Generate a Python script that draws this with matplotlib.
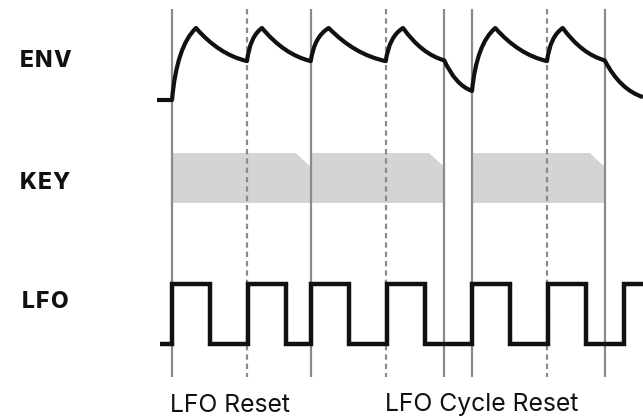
import matplotlib
matplotlib.use("Agg")
import matplotlib.pyplot as plt
from matplotlib.path import Path
from matplotlib.patches import PathPatch, Polygon

# ---------------- data (time in arbitrary units, LFO period = 100) ----------------
row_labels = ["ENV", "KEY", "LFO"]
event_labels = ["LFO Reset", "LFO Cycle Reset"]

key_on = [0, 185, 400]
key_off = [185, 363, 577]

lfo_reset_times = [0, 185, 363, 400, 577]      # solid markers (key events)
lfo_cycle_times = [100, 285, 500]              # dashed markers

lfo_edge_times = [-16, 0, 51, 101, 152, 185, 236, 287, 337, 400, 451, 501, 552, 603, 628]
lfo_levels = [0, 1, 0, 1, 0, 1, 0, 1, 0, 1, 0, 1, 0, 1, 1]

env_times = [-20, 0, 32, 100, 120, 185, 209, 285, 308, 363, 400, 431, 500, 521, 577, 628]
env_levels = [0, 0, 1.0, 0.54, 1.0, 0.54, 1.0, 0.54, 1.0, 0.55, 0.125, 1.0, 0.54, 1.0, 0.55, 0.04]
env_shapes = ["flat", "attack", "decay", "attack", "decay", "attack", "decay", "attack",
              "decay", "release", "attack", "decay", "attack", "decay", "release"]

# ---------------- layout / style ----------------
W, H, DPI = 643, 418, 100
PX_PER_T = 0.75
X0_PX = 172
ENV_BASE, ENV_H = 100, 72
LFO_BASE, LFO_H = 344, 60
KEY_TOP, KEY_BOT = 153, 203
CHAMF_T, CHAMF_H = 20, 14
VTOP, VBOT = 9, 377
INK = "#111111"
GRAY = "#8a8a8a"
KEYC = "#d4d4d4"

fig = plt.figure(figsize=(W / DPI, H / DPI), dpi=DPI)
ax = fig.add_axes([0, 0, 1, 1])
ax.set_xlim((0 - X0_PX) / PX_PER_T, (W - X0_PX) / PX_PER_T)
ax.set_ylim(H, 0)
ax.axis("off")

# key bands
for on, off in zip(key_on, key_off):
    poly = Polygon([(on, KEY_TOP), (off - CHAMF_T, KEY_TOP), (off, KEY_TOP + CHAMF_H),
                    (off, KEY_BOT), (on, KEY_BOT)], closed=True,
                   facecolor=KEYC, edgecolor="none", zorder=1)
    ax.add_patch(poly)

# vertical markers
for t in lfo_reset_times:
    ax.plot([t, t], [VTOP, VBOT], color=GRAY, lw=1.6, solid_capstyle="butt", zorder=2)
for t in lfo_cycle_times:
    ax.plot([t, t], [VTOP, VBOT], color=GRAY, lw=1.6, linestyle=(0, (2.4, 1.8)),
            dash_capstyle="butt", zorder=2)

# envelope (quadratic bezier segments)
shape_ctrl = {"attack": (0.2, 0.75), "decay": (0.45, 0.8), "release": (0.4, 0.8)}
ey = [ENV_BASE - ENV_H * v for v in env_levels]
verts = [(env_times[0], ey[0])]
codes = [Path.MOVETO]
for i, shp in enumerate(env_shapes):
    t0, t1 = env_times[i], env_times[i + 1]
    y0, y1 = ey[i], ey[i + 1]
    if shp == "flat":
        verts.append((t1, y1)); codes.append(Path.LINETO)
    else:
        fx, fy = shape_ctrl[shp]
        verts.append((t0 + fx * (t1 - t0), y0 + fy * (y1 - y0))); codes.append(Path.CURVE3)
        verts.append((t1, y1)); codes.append(Path.CURVE3)
ax.add_patch(PathPatch(Path(verts, codes), fill=False, edgecolor=INK, lw=3.0,
                       joinstyle="round", capstyle="butt", zorder=3))

# LFO square wave
ax.step(lfo_edge_times, [LFO_BASE - LFO_H * v for v in lfo_levels], where="post",
        color=INK, lw=3.2, solid_joinstyle="miter", solid_capstyle="butt", zorder=3)

# row labels with letter tracking
renderer = fig.canvas.get_renderer()
label_y = [61, 183, 302]
TRACK_PX = 1.2
LFS = 16.5
for lab, y in zip(row_labels, label_y):
    widths = []
    for ch in lab:
        tmp = ax.text(0, 0, ch, fontsize=LFS, fontweight="heavy", family="Inter")
        widths.append(tmp.get_window_extent(renderer).width)
        tmp.remove()
    total = sum(widths) + TRACK_PX * (len(lab) - 1)
    xpx = 45 - total / 2
    for ch, w in zip(lab, widths):
        ax.text((xpx - X0_PX) / PX_PER_T, y, ch, ha="left", va="center", fontsize=LFS,
                fontweight="heavy", family="Inter", color=INK)
        xpx += w + TRACK_PX

# event labels
ax.text(lfo_reset_times[0] - 2, 405, event_labels[0], ha="left", va="center",
        fontsize=17.8, family="Inter", color=INK)
ax.text(lfo_cycle_times[1] - 1, 405, event_labels[1], ha="left", va="center",
        fontsize=17.8, family="Inter", color=INK)

fig.savefig("out.png", dpi=DPI)
